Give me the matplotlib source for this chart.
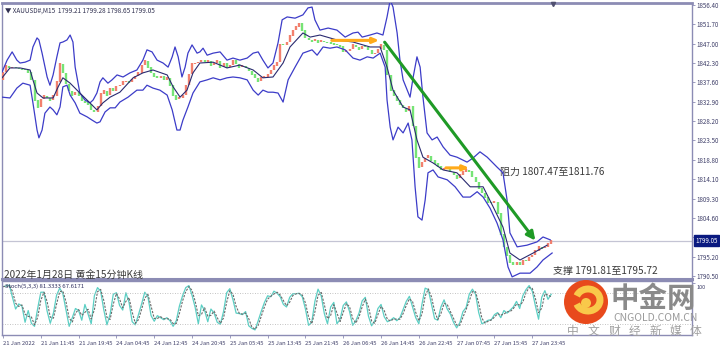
import numpy as np
import pandas as pd
import matplotlib
matplotlib.use("Agg")
import matplotlib.pyplot as plt
import matplotlib.transforms as mtransforms
from matplotlib.patches import Circle, Arc

plt.rcParams['font.family'] = ['Noto Sans CJK SC', 'DejaVu Sans']

# K线收盘价，开盘价取上一根收盘
first_open = 1838.2
close_prices = [
    1840.1, 1841.6, 1841.1, 1841.3, 1841.1, 1840.9, 1840.8, 1840.6, 1840.1, 1838.2,
    1833.3, 1831.6, 1833.5, 1834.3, 1833.8, 1833.3, 1834.3, 1837.7, 1842.1, 1839.9,
    1837.2, 1835.5, 1834.5, 1835.2, 1834.3, 1833.1, 1832.8, 1832.3, 1830.9, 1830.4,
    1831.8, 1834.8, 1835.5, 1834.5, 1836.2, 1835.5, 1836.7, 1836.9, 1837.7, 1837.9,
    1837.6, 1838.4, 1839.1, 1839.9, 1841.8, 1842.8, 1841.3, 1839.9, 1839.1, 1838.7,
    1839.1, 1838.2, 1838.7, 1836.9, 1834.5, 1833.5, 1833.8, 1834.5, 1836.9, 1839.6,
    1842.1, 1842.3, 1842.5, 1843.0, 1842.6, 1842.8, 1841.8, 1842.3, 1842.8, 1841.3,
    1842.3, 1841.3, 1841.8, 1843.0, 1842.1, 1841.3, 1841.6, 1841.1, 1840.4, 1839.6,
    1838.7, 1837.9, 1838.7, 1838.9, 1839.6, 1840.6, 1841.6, 1842.5, 1846.9, 1846.7,
    1847.4, 1848.9, 1850.3, 1851.1, 1852.0, 1850.3, 1848.4, 1847.9, 1847.6, 1847.9,
    1847.4, 1847.7, 1847.5, 1847.4, 1847.1, 1846.9, 1846.7, 1846.4, 1845.0, 1845.3,
    1845.7, 1846.7, 1846.2, 1845.7, 1846.4, 1846.2, 1845.5, 1844.5, 1844.7, 1845.7,
    1846.7, 1845.5, 1839.4, 1835.7, 1834.3, 1833.3, 1832.1, 1831.4, 1830.6, 1831.8,
    1827.0, 1819.4, 1817.0, 1818.2, 1819.2, 1819.7, 1818.7, 1817.9, 1817.2, 1816.3,
    1816.6, 1816.8, 1815.8, 1815.1, 1814.3, 1815.1, 1815.8, 1816.3, 1816.0, 1814.6,
    1813.4, 1811.9, 1810.7, 1809.7, 1808.5, 1808.3, 1808.6, 1805.8, 1800.7, 1797.6,
    1795.6, 1793.9, 1793.2, 1793.9, 1793.2, 1794.4, 1794.2, 1795.1, 1795.6, 1796.6,
    1797.6, 1797.3, 1797.5, 1798.3, 1799.05,
]

# 布林带（K线序号, 价格）
upper_band = [
    (-0.3, 1840.1), (1.3, 1843.0), (2.9, 1845.0), (4.4, 1843.0), (5.4, 1842.3), (7.0, 1842.5),
    (8.6, 1843.0), (9.5, 1846.2), (10.8, 1848.4), (11.4, 1847.9), (12.4, 1844.7), (14.0, 1838.9),
    (14.9, 1836.9), (15.9, 1839.4), (17.1, 1843.8), (18.1, 1847.2), (19.0, 1847.4), (20.3, 1847.9),
    (21.3, 1849.1), (22.2, 1847.4), (22.9, 1841.3), (24.4, 1835.0), (26.0, 1833.3), (27.6, 1832.6),
    (28.6, 1833.3), (29.8, 1835.0), (30.8, 1837.7), (31.7, 1838.7), (33.3, 1837.4), (34.6, 1838.2),
    (36.2, 1839.4), (38.1, 1838.9), (40.3, 1839.9), (42.5, 1840.6), (44.4, 1843.0), (45.7, 1845.5),
    (47.3, 1845.0), (48.9, 1843.0), (50.8, 1842.3), (52.4, 1841.3), (53.7, 1843.8), (54.6, 1846.2),
    (55.6, 1843.8), (56.8, 1838.9), (57.8, 1841.3), (58.7, 1844.7), (60.0, 1846.7), (61.6, 1844.7),
    (62.5, 1845.0), (63.5, 1845.9), (64.8, 1844.2), (66.7, 1844.7), (68.9, 1845.0), (71.1, 1843.0),
    (73.0, 1843.5), (75.2, 1843.0), (77.5, 1843.5), (79.4, 1844.7), (81.0, 1845.0), (82.5, 1843.0),
    (84.1, 1841.1), (85.7, 1842.3), (87.3, 1847.2), (88.6, 1852.8), (90.2, 1853.5), (92.7, 1853.2),
    (95.2, 1854.0), (96.8, 1855.7), (98.1, 1855.9), (99.0, 1852.8), (100.6, 1850.3), (103.2, 1850.8),
    (106.0, 1850.3), (108.6, 1848.6), (111.1, 1849.6), (112.7, 1849.8), (114.0, 1848.6), (116.5, 1849.1),
    (118.7, 1849.6), (120.6, 1849.1), (121.9, 1853.5), (122.9, 1857.6), (123.8, 1855.9), (125.1, 1849.6),
    (126.0, 1843.0), (127.0, 1838.2), (129.2, 1834.0), (130.2, 1838.9), (131.4, 1843.8), (132.4, 1841.3),
    (133.3, 1834.0), (134.6, 1825.3), (136.2, 1823.6), (137.8, 1824.3), (139.7, 1821.9), (141.9, 1819.9),
    (144.1, 1819.4), (147.3, 1818.2), (149.2, 1819.2), (151.4, 1820.7), (153.7, 1819.4), (156.8, 1817.0),
    (158.7, 1815.6), (160.0, 1809.0), (160.9, 1801.0), (163.2, 1797.6), (166.3, 1798.0), (169.5, 1798.8),
    (171.4, 1800.0), (173.7, 1799.3),
]
lower_band = [
    (-0.3, 1834.0), (2.2, 1833.8), (4.4, 1836.2), (6.3, 1837.4), (8.6, 1836.9), (9.5, 1832.6),
    (10.8, 1826.0), (11.4, 1824.1), (12.4, 1826.0), (13.3, 1830.1), (14.9, 1831.6), (15.9, 1830.9),
    (17.1, 1829.7), (18.1, 1831.6), (19.0, 1836.5), (20.3, 1836.9), (21.3, 1834.5), (22.9, 1832.6),
    (24.4, 1830.1), (26.7, 1829.2), (28.3, 1828.4), (29.8, 1827.7), (30.8, 1828.0), (32.4, 1830.4),
    (34.0, 1831.4), (35.6, 1831.4), (37.1, 1832.8), (39.7, 1834.0), (42.5, 1835.7), (44.4, 1835.7),
    (45.7, 1836.9), (47.6, 1836.2), (49.8, 1835.7), (52.1, 1834.5), (53.7, 1830.9), (55.2, 1826.0),
    (56.2, 1826.0), (57.1, 1828.4), (58.7, 1831.6), (60.3, 1835.0), (62.5, 1837.7), (64.8, 1838.2),
    (66.7, 1838.7), (68.9, 1838.2), (71.1, 1838.7), (73.0, 1838.9), (75.2, 1838.7), (77.5, 1838.2),
    (79.4, 1835.7), (81.0, 1834.5), (82.5, 1835.7), (84.1, 1835.2), (85.7, 1835.2), (87.3, 1835.0),
    (88.9, 1832.8), (90.5, 1838.2), (92.7, 1841.3), (95.2, 1844.7), (98.1, 1845.5), (99.7, 1844.2),
    (101.6, 1846.2), (103.8, 1845.9), (106.0, 1846.2), (108.6, 1845.5), (111.1, 1843.5), (113.3, 1843.0),
    (115.6, 1843.8), (117.5, 1843.5), (119.7, 1844.7), (121.3, 1841.3), (121.9, 1833.3), (122.9, 1826.7),
    (123.8, 1823.6), (125.4, 1826.7), (127.0, 1825.3), (128.6, 1827.7), (129.8, 1823.6), (130.8, 1812.2),
    (131.7, 1804.9), (133.0, 1804.1), (134.0, 1809.0), (134.9, 1815.6), (136.5, 1816.3), (138.1, 1814.6),
    (141.0, 1813.9), (143.5, 1812.2), (146.0, 1809.7), (148.3, 1809.7), (150.5, 1811.0), (152.4, 1809.7),
    (154.6, 1807.0), (156.8, 1803.4), (158.7, 1799.3), (160.3, 1792.7), (161.6, 1790.3), (164.1, 1791.2),
    (167.3, 1791.2), (169.5, 1792.7), (171.4, 1794.4), (174.3, 1796.1),
]
middle_band = [
    (-0.3, 1838.7), (2.2, 1841.1), (5.4, 1841.1), (8.6, 1840.6), (9.5, 1838.2), (10.8, 1835.0),
    (12.7, 1833.8), (15.9, 1833.8), (17.5, 1836.5), (19.0, 1838.7), (21.3, 1837.4), (24.4, 1835.0),
    (27.6, 1832.6), (29.8, 1830.9), (31.7, 1832.6), (34.0, 1834.0), (37.1, 1835.2), (41.3, 1838.7),
    (44.4, 1839.9), (47.6, 1840.6), (52.1, 1839.4), (54.0, 1836.5), (56.2, 1834.0), (58.4, 1835.7),
    (60.3, 1839.9), (62.5, 1842.3), (66.7, 1842.5), (71.1, 1841.1), (75.2, 1841.8), (79.4, 1840.6),
    (82.5, 1838.7), (85.7, 1838.9), (88.9, 1842.3), (91.1, 1846.2), (95.2, 1849.6), (97.5, 1848.6),
    (100.6, 1849.1), (106.0, 1847.9), (111.1, 1847.4), (116.5, 1846.2), (119.7, 1846.2), (121.9, 1841.3),
    (123.8, 1835.7), (127.0, 1831.6), (129.2, 1830.9), (131.4, 1823.6), (133.3, 1819.4), (136.5, 1818.0),
    (139.7, 1816.3), (144.1, 1815.6), (148.3, 1812.2), (152.4, 1812.2), (155.6, 1807.3), (158.7, 1802.4),
    (160.9, 1796.1), (164.1, 1794.4), (168.3, 1796.1), (172.7, 1798.0),
]

# Stoch 主线（每根K线一个值）
stoch_k = [
    93, 94, 96, 72, 49, 59, 55, 23, 46, 21,
    15, 50, 82, 82, 45, 21, 41, 76, 90, 79,
    47, 15, 32, 50, 46, 27, 58, 39, 20, 75,
    91, 84, 47, 18, 39, 78, 81, 56, 47, 81,
    62, 24, 18, 38, 59, 82, 73, 36, 25, 36,
    32, 28, 32, 26, 15, 26, 55, 75, 91, 95,
    76, 52, 20, 57, 46, 24, 49, 41, 23, 19,
    44, 81, 89, 67, 41, 40, 38, 44, 16, 11,
    8, 26, 45, 62, 75, 73, 84, 80, 73, 58,
    53, 72, 79, 79, 80, 73, 49, 17, 23, 64,
    88, 75, 40, 20, 53, 62, 20, 29, 56, 63,
    44, 17, 26, 41, 65, 72, 35, 16, 26, 50,
    58, 34, 24, 27, 32, 26, 32, 48, 64, 74,
    53, 32, 20, 59, 90, 87, 59, 30, 27, 53,
    67, 49, 39, 23, 12, 22, 44, 52, 78, 88,
    78, 42, 20, 23, 27, 28, 38, 42, 32, 46,
    41, 47, 53, 64, 50, 75, 87, 95, 84, 55,
    29, 72, 85, 68, 78,
]

price_ticks = [1856.40, 1851.70, 1847.00, 1842.30, 1837.60, 1832.90, 1828.20, 1823.50,
               1818.80, 1814.10, 1809.30, 1804.60, 1799.90, 1795.20, 1790.50]
time_labels = ["21 Jan 2022", "21 Jan 11:45", "21 Jan 19:45", "24 Jan 04:45", "24 Jan 12:45",
               "24 Jan 20:45", "25 Jan 05:45", "25 Jan 13:45", "25 Jan 21:45", "26 Jan 06:45",
               "26 Jan 14:45", "26 Jan 22:45", "27 Jan 07:45", "27 Jan 15:45", "27 Jan 23:45"]
bars_per_label = 12
last_price = 1799.05

# 画线：趋势线和两条橙色水平线（K线序号, 价格）
trend_line = [(120.6, 1847.9), (169.5, 1798.6)]
orange_lines = [[(103.5, 1847.8), (120.3, 1847.8)],
                [(139.7, 1816.8), (148.9, 1816.8)]]

closes = np.array(close_prices)
opens = np.r_[first_open, closes[:-1]]
idx = np.arange(len(closes))
k_line = pd.Series(stoch_k, dtype=float)
d_line = k_line.rolling(2, min_periods=1).mean()

W, H = 720, 350
def box(x0, y0, x1, y1):
    return [x0 / W, 1 - y1 / H, (x1 - x0) / W, (y1 - y0) / H]

fig = plt.figure(figsize=(7.2, 3.5), dpi=100)
ax = fig.add_axes(box(2, 3, 692, 279))
ax2 = fig.add_axes(box(2, 281, 692, 335))

frame = '#8c8cb4'
txt = '#40406a'
xlim = (-0.32, 218.7)

# 主图
up = closes >= opens
ax.vlines(idx[up], opens[up], closes[up] + 0.12, colors='#f2806e', linewidth=1.7, zorder=3)
ax.vlines(idx[~up], closes[~up] - 0.12, opens[~up], colors='#76e476', linewidth=1.7, zorder=3)
for band, c, w in [(upper_band, '#3c3cc8', 0.9), (lower_band, '#3c3cc8', 0.9),
                   (middle_band, '#2a2a70', 0.8)]:
    bx, by = zip(*band)
    ax.plot(bx, by, color=c, lw=w, zorder=4)

ax.axhline(last_price, color='#c4c4d4', lw=0.9, zorder=1)

(x0, y0), (x1, y1) = trend_line
ax.annotate('', xy=(x1, y1), xytext=(x0, y0),
            arrowprops=dict(arrowstyle='-|>,head_length=0.5,head_width=0.25',
                            color='#1f9a26', lw=2.2), zorder=6)
for (a, b) in orange_lines:
    ax.annotate('', xy=b, xytext=a,
                arrowprops=dict(arrowstyle='-|>,head_length=0.35,head_width=0.15',
                                color='#ffaa1a', lw=2.2), zorder=6)

ax.set_xlim(*xlim)
ax.set_ylim(1789.78, 1856.89)
ax.yaxis.tick_right()
ax.set_yticks(price_ticks)
# 1799.90 被当前价格框遮住
ax.set_yticklabels(["" if v == 1799.90 else f"{v:.2f}" for v in price_ticks])
ax.tick_params(axis='y', labelsize=4.5, colors=frame, labelcolor=txt, length=2, pad=1.5, width=0.6)
ax.set_xticks([])
for sp in ax.spines.values():
    sp.set_color(frame)
    sp.set_linewidth(1.0)
ax.spines['bottom'].set_linewidth(2.2)
ax.spines['top'].set_linewidth(2.0)

ax.annotate(f"{last_price:.2f}", xy=(1.0, last_price), xycoords=('axes fraction', 'data'),
            xytext=(2.5, 0), textcoords='offset points', va='center', ha='left',
            fontsize=4.5, color='white', zorder=10, annotation_clip=False,
            bbox=dict(boxstyle='square,pad=0.25', fc='#0a1a80', ec='#0a1a80'))

ax.text(0.004, 0.985, "▼ XAUUSD#,M15  1799.21 1799.28 1798.65 1799.05", transform=ax.transAxes,
        fontsize=4.6, color='#303050', va='top', ha='left')
ax.text(157.8, 1815.9, "阻力 1807.47至1811.76", fontsize=7.2, color='#3a3a3a', va='center')
ax.text(174.6, 1791.7, "支撑 1791.81至1795.72", fontsize=7.2, color='#3a3a3a', va='center')
ax.text(0.2, 1790.9, "2022年1月28日 黄金15分钟K线", fontsize=7.2, color='#3a3a3a', va='center')
ax.plot([174.6], [1856.6], marker='v', ms=3, color='#505070', clip_on=False, zorder=8)

# 随机指标
ax2.plot(np.arange(len(k_line)), k_line, color='#5ccfc4', lw=0.9)
ax2.plot(np.arange(len(d_line)), d_line, color='#6a6a6a', lw=0.8, ls=(0, (2, 1.2)))
ax2.axhline(80, color='#b0b0b0', lw=0.6, ls=(0, (1, 2)))
ax2.axhline(20, color='#b0b0b0', lw=0.6, ls=(0, (1, 2)))
ax2.set_xlim(*xlim)
ax2.set_ylim(-2, 104)
ax2.yaxis.tick_right()
ax2.set_yticks([100])
ax2.set_yticklabels(["100"], va='top')
ax2.tick_params(axis='y', labelsize=4.0, colors=frame, labelcolor=txt, length=2, pad=1.5, width=0.6)
shift = mtransforms.ScaledTranslation(0, -1.5 / 72, fig.dpi_scale_trans)
for lab in ax2.get_yticklabels():
    lab.set_transform(lab.get_transform() + shift)
ax2.set_xticks(np.arange(len(time_labels)) * bars_per_label)
ax2.set_xticklabels(time_labels, ha='left')
ax2.tick_params(axis='x', labelsize=4.2, colors=frame, labelcolor=txt, length=2.5, pad=1.5, width=0.6)
for sp in ax2.spines.values():
    sp.set_color(frame)
    sp.set_linewidth(1.0)
ax2.text(0.004, 0.95, "Stoch(5,3,3) 81.3333 67.6171", transform=ax2.transAxes,
         fontsize=4.3, color='#303060', va='top', ha='left')

# 水印
ov = fig.add_axes([0, 0, 1, 1], zorder=20)
ov.set_xlim(0, W)
ov.set_ylim(H, 0)
ov.axis('off')
ov.add_patch(Circle((586, 302), 22, fc='#e84a1c', ec='none'))
ov.add_patch(Arc((588, 300), 24, 22, theta1=200, theta2=520, lw=5, color='#f9c94a'))
ov.add_patch(Circle((586, 303), 5, fc='#f9c94a', ec='none'))
ov.text(653, 299, "中金网", fontsize=20.5, color='#8a8a8a', ha='center', va='center', fontweight='bold')
ov.text(656, 318, "CNGOLD.COM.CN", fontsize=7.5, color='#9a9a9a', ha='center', va='center')
for i, ch in enumerate("中文财经新媒体"):
    ov.text(573 + i * 20.5, 331, ch, fontsize=8.5, color='#a0a0a0', ha='center', va='center')

fig.savefig("out.png", dpi=100)
